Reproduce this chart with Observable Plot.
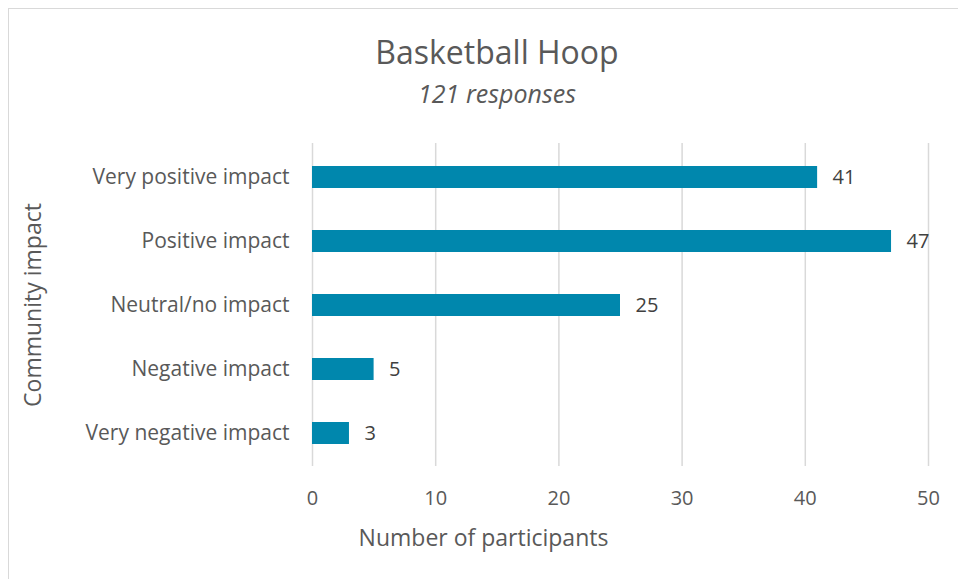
<!DOCTYPE html>
<html>
<head>
<meta charset="utf-8">
<script src="https://cdn.jsdelivr.net/npm/d3@7"></script>
<script src="https://cdn.jsdelivr.net/npm/@observablehq/plot@0.6"></script>
<style>
  html, body { margin: 0; padding: 0; background: #fff; }
  #wrap { position: relative; width: 958px; height: 579px; overflow: hidden; font-family: "Open Sans", sans-serif; }
  #frame { position: absolute; left: 8px; top: 8px; width: 960px; height: 580px; border: 1.5px solid #d9d9d9; box-sizing: border-box; }
  #title { position: absolute; left: 0; width: 994px; top: 32px; text-align: center; font-size: 32px; line-height: 40px; color: #595959; }
  #subtitle { position: absolute; left: 0; width: 994px; top: 78px; text-align: center; font-size: 25px; line-height: 30px; font-style: italic; color: #595959; }
  #chart { position: absolute; left: 0; top: 0; }
</style>
</head>
<body>
<div id="wrap">
  <div id="frame"></div>
  <div id="chart"></div>
  <div id="title">Basketball Hoop</div>
  <div id="subtitle">121 responses</div>
</div>
<script>
const categories = ["Very positive impact", "Positive impact", "Neutral/no impact", "Negative impact", "Very negative impact"];
const counts = [41, 47, 25, 5, 3];
const xTicks = [0, 10, 20, 30, 40, 50];
const xLabel = "Number of participants";
const yLabel = "Community impact";

const data = categories.map((c, i) => ({category: c, count: counts[i]}));

const chart = Plot.plot({
  width: 958,
  height: 579,
  marginTop: 143,
  marginBottom: 113,
  marginLeft: 312,
  marginRight: 30,
  style: {fontFamily: "'Open Sans', sans-serif", fontSize: "20px", color: "#595959", background: "transparent"},
  x: {domain: [0, 50], ticks: xTicks, label: null},
  y: {domain: categories, paddingInner: 0.66, paddingOuter: 0.33, label: null},
  marks: [
    Plot.ruleX(xTicks, {stroke: "#d9d9d9", strokeWidth: 1.5}),
    Plot.barX(data, {x: "count", y: "category", fill: "#0087ad"}),
    Plot.text(data, {x: "count", y: "category", text: d => String(d.count), textAnchor: "start", dx: 15, fill: "#404040", fontSize: 20}),
    Plot.axisX({ticks: xTicks, tickSize: 0, tickPadding: 24, fill: "#595959", fontSize: 20, label: null}),
    Plot.axisY({tickSize: 0, tickPadding: 23, fill: "#595959", fontSize: 21, label: null}),
    Plot.text([xLabel], {frameAnchor: "bottom", dx: -137, dy: 72, textAnchor: "middle", fill: "#595959", fontSize: 23, lineAnchor: "middle"}),
    Plot.text([yLabel], {frameAnchor: "left", dx: -279, textAnchor: "middle", rotate: -90, fill: "#595959", fontSize: 23})
  ]
});
document.getElementById("chart").appendChild(chart);
</script>
</body>
</html>
